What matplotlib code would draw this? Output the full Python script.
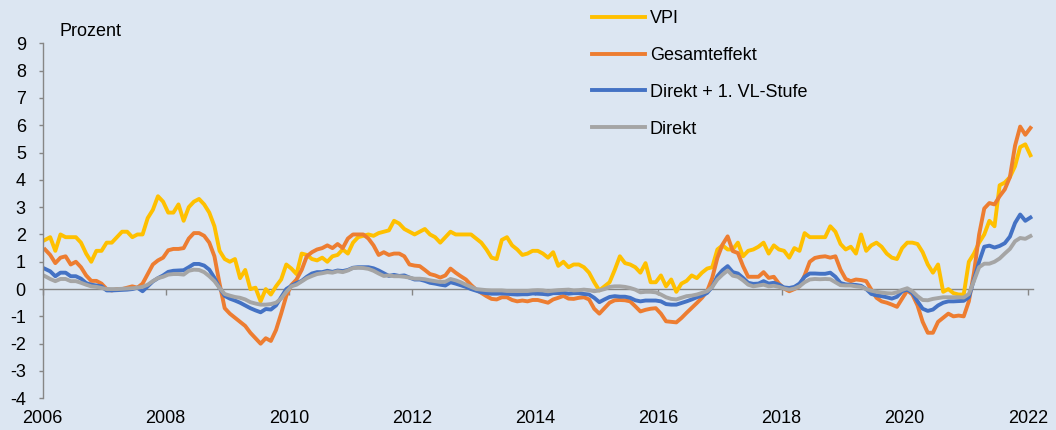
import numpy as np
import matplotlib
matplotlib.use('Agg')
import matplotlib.pyplot as plt
import matplotlib.transforms as mtransforms

plt.rcParams['font.family'] = ['Liberation Sans', 'DejaVu Sans']
plt.rcParams['axes.unicode_minus'] = False

# monthly values, Jan 2006 .. Jan 2022 (percent)
start_year = 2006

vpi = [
    1.8, 1.9, 1.4, 2.0, 1.9, 1.9, 1.9, 1.7, 1.3, 1.0, 1.4, 1.4,
    1.7, 1.7, 1.9, 2.1, 2.1, 1.9, 2.0, 2.0, 2.6, 2.9, 3.4, 3.2,
    2.8, 2.8, 3.1, 2.5, 3.0, 3.2, 3.3, 3.1, 2.8, 2.3, 1.4, 1.1,
    1.0, 1.1, 0.4, 0.7, 0.0, 0.05, -0.45, 0.0, -0.2, 0.1, 0.35, 0.9,
    0.75, 0.55, 1.3, 1.25, 1.1, 1.05, 1.15, 1.0, 1.2, 1.25, 1.45, 1.3,
    1.7, 1.9, 1.95, 2.0, 1.95, 2.05, 2.1, 2.15, 2.5, 2.4, 2.2, 2.1,
    2.0, 2.1, 2.2, 2.0, 1.9, 1.7, 1.9, 2.1, 2.0, 2.0, 2.0, 2.0,
    1.85, 1.7, 1.45, 1.15, 1.1, 1.8, 1.9, 1.6, 1.45, 1.25, 1.3, 1.4,
    1.4, 1.3, 1.15, 1.35, 0.85, 1.0, 0.8, 0.9, 0.9, 0.8, 0.6, 0.25,
    -0.05, 0.1, 0.25, 0.7, 1.2, 0.95, 0.9, 0.8, 0.6, 0.95, 0.25, 0.25,
    0.5, 0.1, 0.35, -0.1, 0.2, 0.3, 0.5, 0.4, 0.6, 0.75, 0.8, 1.45,
    1.6, 1.45, 1.45, 1.7, 1.2, 1.4, 1.45, 1.55, 1.7, 1.3, 1.6, 1.45,
    1.4, 1.15, 1.5, 1.4, 2.05, 1.9, 1.9, 1.9, 1.9, 2.3, 2.1, 1.65,
    1.45, 1.55, 1.3, 2.0, 1.4, 1.6, 1.7, 1.55, 1.3, 1.15, 1.1, 1.5,
    1.7, 1.7, 1.65, 1.35, 0.9, 0.6, 0.9, -0.1, 0.0, -0.15, -0.2, -0.2,
    1.0, 1.3, 1.7, 2.0, 2.5, 2.3, 3.8, 3.9, 4.1, 4.5, 5.2, 5.3,
    4.9,
]

gesamt = [
    1.45, 1.25, 0.95, 1.15, 1.2, 0.9, 1.0, 0.8, 0.5, 0.3, 0.3, 0.2,
    0.0, -0.05, 0.0, 0.0, 0.05, 0.1, 0.05, 0.2, 0.55, 0.9, 1.05, 1.15,
    1.42, 1.47, 1.47, 1.5, 1.85, 2.05, 2.05, 1.95, 1.7, 1.2, 0.2, -0.7,
    -0.9, -1.05, -1.2, -1.35, -1.6, -1.8, -2.0, -1.8, -1.9, -1.5, -0.9, -0.25,
    0.15, 0.35, 0.7, 1.2, 1.35, 1.45, 1.5, 1.6, 1.5, 1.65, 1.5, 1.85,
    2.0, 2.0, 2.0, 1.85, 1.6, 1.25, 1.35, 1.25, 1.3, 1.3, 1.2, 0.9,
    0.86, 0.84, 0.7, 0.55, 0.5, 0.42, 0.5, 0.75, 0.6, 0.47, 0.35, 0.15,
    -0.02, -0.14, -0.26, -0.36, -0.38, -0.3, -0.3, -0.4, -0.45, -0.42, -0.45, -0.4,
    -0.4, -0.45, -0.5, -0.38, -0.32, -0.25, -0.35, -0.36, -0.32, -0.3, -0.38, -0.72,
    -0.9, -0.7, -0.5, -0.41, -0.4, -0.41, -0.45, -0.63, -0.82, -0.76, -0.72, -0.7,
    -0.9, -1.18, -1.2, -1.22, -1.06, -0.87, -0.69, -0.51, -0.32, -0.08, 0.41, 1.14,
    1.63, 1.93, 1.39, 1.32, 0.84, 0.45, 0.45, 0.45, 0.62, 0.41, 0.45, 0.2,
    0.02, -0.08, 0.0, 0.1, 0.5, 1.0, 1.14, 1.18, 1.2, 1.15, 1.2, 0.71,
    0.37, 0.29, 0.35, 0.33, 0.29, -0.02, -0.32, -0.45, -0.5, -0.57, -0.65, -0.35,
    -0.05, -0.2, -0.6, -1.2, -1.6, -1.6, -1.2, -1.05, -0.9, -1.0, -0.97, -1.0,
    -0.45, 0.6, 2.0, 2.95, 3.15, 3.1, 3.4, 3.65, 4.1, 5.25, 5.95, 5.65,
    5.9,
]

direkt_vl = [
    0.74, 0.65, 0.47, 0.6, 0.6, 0.47, 0.47, 0.38, 0.22, 0.16, 0.13, 0.1,
    -0.05, -0.05, -0.04, -0.03, -0.02, 0.0, 0.05, -0.08, 0.1, 0.28, 0.4, 0.5,
    0.63, 0.67, 0.68, 0.69, 0.8, 0.92, 0.92, 0.86, 0.71, 0.41, 0.04, -0.25,
    -0.35, -0.42, -0.5, -0.6, -0.7, -0.78, -0.85, -0.73, -0.75, -0.6, -0.3, 0.0,
    0.12, 0.22, 0.3, 0.45, 0.57, 0.62, 0.62, 0.67, 0.63, 0.68, 0.66, 0.7,
    0.78, 0.8, 0.8, 0.8, 0.76, 0.68, 0.58, 0.48, 0.52, 0.48, 0.5, 0.42,
    0.35, 0.35, 0.3, 0.23, 0.2, 0.16, 0.13, 0.25, 0.2, 0.14, 0.08, 0.0,
    -0.06, -0.12, -0.15, -0.17, -0.17, -0.16, -0.17, -0.19, -0.2, -0.19, -0.19, -0.16,
    -0.17, -0.18, -0.2, -0.15, -0.15, -0.13, -0.17, -0.15, -0.15, -0.18, -0.2, -0.32,
    -0.48, -0.38, -0.29, -0.26, -0.28, -0.28, -0.32, -0.41, -0.45, -0.42, -0.42, -0.42,
    -0.45, -0.55, -0.57, -0.57, -0.51, -0.45, -0.38, -0.3, -0.24, -0.14, 0.08, 0.47,
    0.69, 0.84, 0.62, 0.57, 0.41, 0.23, 0.19, 0.2, 0.29, 0.2, 0.23, 0.16,
    0.06, 0.04, 0.08, 0.2, 0.45, 0.57, 0.57, 0.56, 0.56, 0.6, 0.45, 0.22,
    0.17, 0.16, 0.15, 0.12, 0.0, -0.18, -0.23, -0.26, -0.3, -0.35, -0.28, -0.08,
    -0.02, -0.14, -0.45, -0.72, -0.8, -0.75, -0.6, -0.5, -0.45, -0.45, -0.44, -0.43,
    -0.3, 0.35, 1.0, 1.55, 1.59, 1.52, 1.58, 1.68, 1.92, 2.42, 2.73, 2.5,
    2.62,
]

direkt = [
    0.47, 0.37, 0.29, 0.37, 0.37, 0.29, 0.29, 0.23, 0.16, 0.1, 0.08, 0.04,
    0.0, 0.0, 0.0, 0.01, 0.02, 0.03, 0.05, 0.08, 0.16, 0.29, 0.4, 0.45,
    0.53, 0.55, 0.55, 0.53, 0.67, 0.71, 0.7, 0.62, 0.47, 0.29, 0.04, -0.18,
    -0.24, -0.29, -0.32, -0.38, -0.48, -0.53, -0.57, -0.57, -0.55, -0.5, -0.35, -0.1,
    0.1, 0.16, 0.28, 0.4, 0.48, 0.55, 0.58, 0.62, 0.6, 0.65, 0.62, 0.68,
    0.77, 0.78, 0.77, 0.74, 0.67, 0.57, 0.48, 0.5, 0.47, 0.47, 0.45, 0.42,
    0.38, 0.38, 0.36, 0.32, 0.29, 0.26, 0.27, 0.37, 0.32, 0.25, 0.16, 0.08,
    0.0, -0.02, -0.04, -0.05, -0.05, -0.05, -0.07, -0.07, -0.07, -0.07, -0.07, -0.05,
    -0.04, -0.05, -0.08, -0.06, -0.04, -0.03, -0.02, -0.05, -0.04, -0.02, -0.04, -0.08,
    -0.05, 0.0, 0.08, 0.1, 0.1, 0.08, 0.04, -0.02, -0.12, -0.1, -0.1, -0.12,
    -0.2, -0.3, -0.36, -0.38, -0.32, -0.26, -0.24, -0.2, -0.14, -0.08, 0.08, 0.35,
    0.53, 0.68, 0.49, 0.45, 0.32, 0.16, 0.1, 0.13, 0.16, 0.1, 0.12, 0.08,
    0.02, -0.02, 0.02, 0.1, 0.25, 0.35, 0.37, 0.36, 0.37, 0.36, 0.25, 0.14,
    0.13, 0.13, 0.1, 0.08, 0.0, -0.06, -0.1, -0.13, -0.15, -0.16, -0.12, -0.03,
    0.03, -0.08, -0.26, -0.4, -0.41, -0.36, -0.33, -0.3, -0.3, -0.3, -0.3, -0.31,
    -0.18, 0.3, 0.8, 0.93, 0.93, 1.0, 1.12, 1.3, 1.47, 1.75, 1.87, 1.84,
    1.94,
]

series_labels = ['VPI', 'Gesamteffekt', 'Direkt + 1. VL-Stufe', 'Direkt']
series_colors = ['#FFC000', '#ED7D31', '#4472C4', '#A5A5A5']
year_ticks = list(range(2006, 2023, 2))
y_ticks = list(range(-4, 10))

bg = '#DCE6F2'
axis_grey = '#868686'

W, H = 1056, 430
fig = plt.figure(figsize=(W / 100, H / 100), dpi=100, facecolor=bg)
ax = fig.add_axes([42.5 / W, 1 - 398.3 / H, (1033 - 42.5) / W, 355 / H])
ax.set_facecolor(bg)

# points sit in the middle of each monthly category
n = len(vpi)
x = start_year + (np.arange(n) + 0.5) / 12

for values, label, color in zip([vpi, gesamt, direkt_vl, direkt], series_labels, series_colors):
    ax.plot(x, values, color=color, lw=2.8, label=label, solid_joinstyle='round')

ax.set_xlim(start_year, start_year + n / 12)
ax.set_ylim(-4, 9)
ax.set_yticks(y_ticks)
ax.set_yticklabels([str(v) for v in y_ticks])

for side in ['top', 'right']:
    ax.spines[side].set_visible(False)
ax.spines['left'].set_color(axis_grey)
ax.spines['left'].set_linewidth(1)
ax.spines['bottom'].set_position(('data', 0))
ax.spines['bottom'].set_color(axis_grey)
ax.spines['bottom'].set_linewidth(1)
ax.spines['bottom'].set_zorder(0.5)

ax.set_xticks(year_ticks)
ax.tick_params(axis='x', direction='out', length=4, width=1, color=axis_grey, labelbottom=False)
ax.tick_params(axis='y', direction='out', length=3, width=1, color=axis_grey,
               labelsize=13, pad=9)

# year labels sit below the plot area, not at the zero line
trans = mtransforms.blended_transform_factory(ax.transData, ax.transAxes)
for yr in year_ticks:
    ax.text(yr, -0.058, str(yr), transform=trans, ha='center', va='center', fontsize=13)

fig.text(59.5 / W, 1 - 32 / H, 'Prozent', ha='left', va='center', fontsize=13)

ax.legend(loc='upper left', bbox_to_anchor=(592 / W, 1 - 10 / H), bbox_transform=fig.transFigure,
          frameon=False, fontsize=13, handlelength=2.95, handletextpad=0.25,
          labelspacing=1.1, borderpad=0, borderaxespad=0)

fig.savefig('out.png', dpi=100, facecolor=bg)
